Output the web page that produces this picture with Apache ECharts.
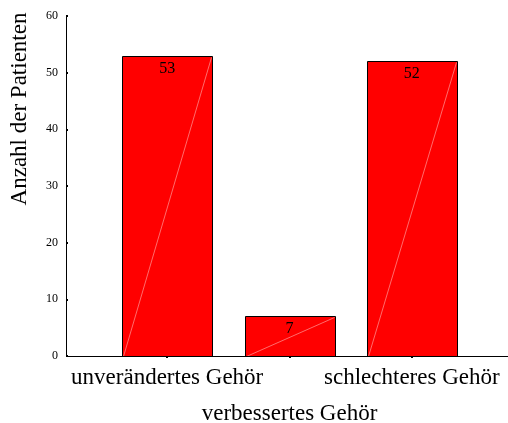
<!DOCTYPE html>
<html>
<head>
<meta charset="utf-8">
<script src="https://cdn.jsdelivr.net/npm/echarts@6/dist/echarts.min.js"></script>
<style>html,body{margin:0;padding:0;background:#fff}#c{width:508px;height:423px}</style>
</head>
<body>
<div id="c"></div>
<script>
var categories = ['unverändertes Gehör', 'verbessertes Gehör', 'schlechteres Gehör'];
var values = [53, 7, 52];
var yMin = 0, yMax = 60, yStep = 10;
var yTitle = 'Anzahl der Patienten';

var FONT = '"Liberation Serif", "Times New Roman", serif';
var chart = echarts.init(document.getElementById('c'), null, {renderer: 'canvas'});

chart.setOption({
  backgroundColor: '#fff',
  animation: false,
  grid: {left: 106, right: 35, top: 16, bottom: 67, containLabel: false, outerBoundsMode: 'none'},
  xAxis: {
    type: 'category',
    data: categories,
    boundaryGap: true,
    axisLine: {show: false},
    axisTick: {show: true, alignWithLabel: true, length: 2, lineStyle: {color: '#000', width: 2}},
    axisLabel: {
      interval: 0,
      margin: 10,
      color: '#000',
      fontFamily: FONT,
      fontSize: 23,
      formatter: function (v, i) { return i % 2 === 1 ? '{b|' + v + '}' : '{a|' + v + '}'; },
      rich: {
        a: {fontFamily: FONT, fontSize: 23, color: '#000'},
        b: {fontFamily: FONT, fontSize: 23, color: '#000', padding: [36, 0, 0, 0]}
      }
    }
  },
  yAxis: {
    type: 'value',
    min: yMin, max: yMax, interval: yStep,
    offset: 40,
    splitLine: {show: false},
    axisLine: {show: true, lineStyle: {color: '#000', width: 1}},
    axisTick: {show: true, inside: true, length: 2, lineStyle: {color: '#000', width: 2}},
    axisLabel: {color: '#000', fontFamily: FONT, fontSize: 12, margin: 8}
  },
  graphic: [
    {type: 'line', shape: {x1: 66, y1: 356.5, x2: 508, y2: 356.5}, style: {stroke: '#000', lineWidth: 1}, z: 10},
    {type: 'text', x: 20, y: 109, rotation: Math.PI / 2,
     style: {text: yTitle, font: '23px ' + FONT, fill: '#000', align: 'center', verticalAlign: 'middle'}}
  ],
  series: [{
    type: 'custom',
    data: values.map(function (v, i) { return [i, v]; }),
    renderItem: function (params, api) {
      var idx = api.value(0), val = api.value(1);
      var top = api.coord([idx, val]);
      var base = api.coord([idx, 0]);
      var w = 90;
      var x0 = Math.round(top[0] - w / 2) + 0.5;
      var y0 = Math.round(top[1]) + 0.5;
      var yb = Math.round(base[1]) + 0.5;
      return {
        type: 'group',
        children: [
          {type: 'rect', shape: {x: x0, y: y0, width: w, height: yb - y0},
           style: {fill: '#ff0000', stroke: '#000', lineWidth: 1}},
          {type: 'line', shape: {x1: x0 + 1, y1: yb, x2: x0 + w - 1, y2: y0 + 1},
           style: {stroke: 'rgba(255,200,200,0.9)', lineWidth: 0.6}},
          {type: 'text', style: {text: String(val), x: top[0], y: y0 + 4, align: 'center', verticalAlign: 'top',
           font: '16px ' + FONT, fill: '#000'}}
        ]
      };
    }
  }]
});
</script>
</body>
</html>
